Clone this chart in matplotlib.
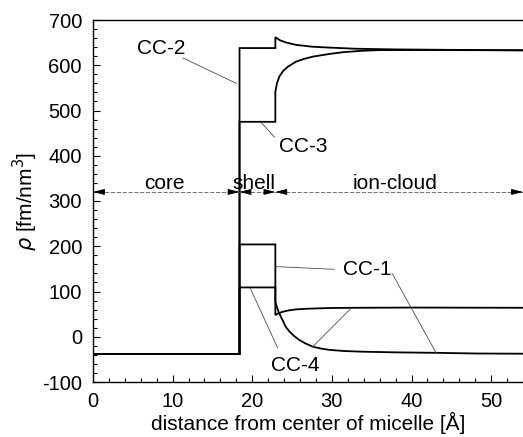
import matplotlib
matplotlib.use("Agg")
import matplotlib.pyplot as plt
from matplotlib.ticker import MultipleLocator

plt.rcParams['font.family'] = ['Liberation Sans', 'DejaVu Sans']
plt.rcParams['mathtext.fontset'] = 'dejavusans'
plt.rcParams['axes.unicode_minus'] = False

# radial density profiles (distance in Angstrom, rho in fm/nm^3)
cc1_x = [0, 18.4, 18.4, 22.9, 22.9, 23.3, 23.8, 24.2, 24.7, 25.3, 25.9, 26.7,
         27.6, 28.6, 29.7, 31.5, 33.8, 38, 43, 48, 54]
cc1_y = [-38, -38, 204, 204, 77, 55, 37, 22, 11, 1, -7, -15,
         -22, -26, -29, -31.5, -33, -34.5, -35.5, -37, -37.5]

cc2_x = [0, 18.4, 18.4, 22.9, 22.9, 23.5, 24.3, 25.5, 27.5, 29.7, 33, 38, 45, 54]
cc2_y = [-38, -38, 638, 638, 662, 655, 650, 645, 641, 639, 636.5, 635, 634, 633]

cc3_x = [0, 18.4, 18.4, 22.9, 22.9, 23.1, 23.4, 23.9, 24.5, 25.5, 26.5, 27.6,
         29.7, 31.5, 33.8, 36, 45, 54]
cc3_y = [-38, -38, 475, 475, 541, 560, 575, 588, 597, 608, 614, 619,
         625, 629, 632, 633.5, 633.5, 633]

cc4_x = [0, 18.4, 18.4, 22.9, 22.9, 23.3, 23.8, 24.5, 25.5, 27, 29.7, 33, 40, 54]
cc4_y = [-38, -38, 109, 109, 48, 52, 55, 58, 60.5, 62, 63.5, 64, 64.5, 64]

# region boundaries and labels
r_core = 18.4
r_shell = 22.9
x_max = 54
region_y = 320
region_names = ['core', 'shell', 'ion-cloud']
region_text_x = [9.0, 20.2, 37.9]

fig = plt.figure(figsize=(5.23, 4.37), dpi=100)
ax = fig.add_axes([93 / 523, 55 / 437, 430 / 523, 362 / 437])

for xs, ys in [(cc1_x, cc1_y), (cc2_x, cc2_y), (cc3_x, cc3_y), (cc4_x, cc4_y)]:
    ax.plot(xs, ys, color='black', lw=1.3, solid_joinstyle='miter')

# dashed region line with arrow heads at each boundary
ax.plot([0, x_max], [region_y, region_y], color='0.35', lw=0.6,
        linestyle=(0, (5, 2)))
head = dict(arrowstyle='-|>,head_length=0.7,head_width=0.18',
            color='black', lw=0.6, shrinkA=0, shrinkB=0)
bounds = [0, r_core, r_shell, x_max]
for a, b in zip(bounds[:-1], bounds[1:]):
    ax.annotate('', xy=(a, region_y), xytext=(a + 1.4, region_y),
                arrowprops=head, annotation_clip=False)
    ax.annotate('', xy=(b, region_y), xytext=(b - 1.4, region_y),
                arrowprops=head, annotation_clip=False)
for name, tx in zip(region_names, region_text_x):
    ax.text(tx, 327, name, ha='center', va='baseline', fontsize=15)

# curve labels with leader lines
lead = dict(color='0.3', lw=0.6)
ax.text(8.6, 636, 'CC-2', ha='center', va='center', fontsize=15)
ax.plot([11.3, 18.0], [616, 560], **lead)
ax.text(26.4, 421, 'CC-3', ha='center', va='center', fontsize=15)
ax.plot([22.8, 21.2], [441, 472], **lead)
ax.text(34.4, 148, 'CC-1', ha='center', va='center', fontsize=15)
ax.plot([30.3, 23.0], [149, 155], **lead)
ax.plot([37.6, 43.1], [139, -36], **lead)
ax.text(25.4, -63, 'CC-4', ha='center', va='center', fontsize=15)
ax.plot([23.2, 19.75], [-25, 107], **lead)
ax.plot([27.6, 32.3], [-22, 61], **lead)

ax.set_xlim(0, x_max)
ax.set_ylim(-100, 700)
ax.xaxis.set_major_locator(MultipleLocator(10))
ax.xaxis.set_minor_locator(MultipleLocator(2))
ax.yaxis.set_major_locator(MultipleLocator(100))
ax.yaxis.set_minor_locator(MultipleLocator(20))
ax.tick_params(which='both', direction='in', top=False, right=False,
               labelsize=14.5, width=0.8)
ax.tick_params(which='major', length=5)
ax.tick_params(which='minor', length=3)
ax.tick_params(axis='x', pad=7)
ax.tick_params(axis='y', pad=8)
ax.spines['right'].set_visible(False)
for s in ['left', 'bottom', 'top']:
    ax.spines[s].set_linewidth(1.0)

ax.set_xlabel('distance from center of micelle [Å]', fontsize=15, labelpad=1)
ax.set_ylabel(r'$\rho$ [fm/nm$^3$]', fontsize=15, labelpad=1)

fig.savefig('out.png', dpi=100)
